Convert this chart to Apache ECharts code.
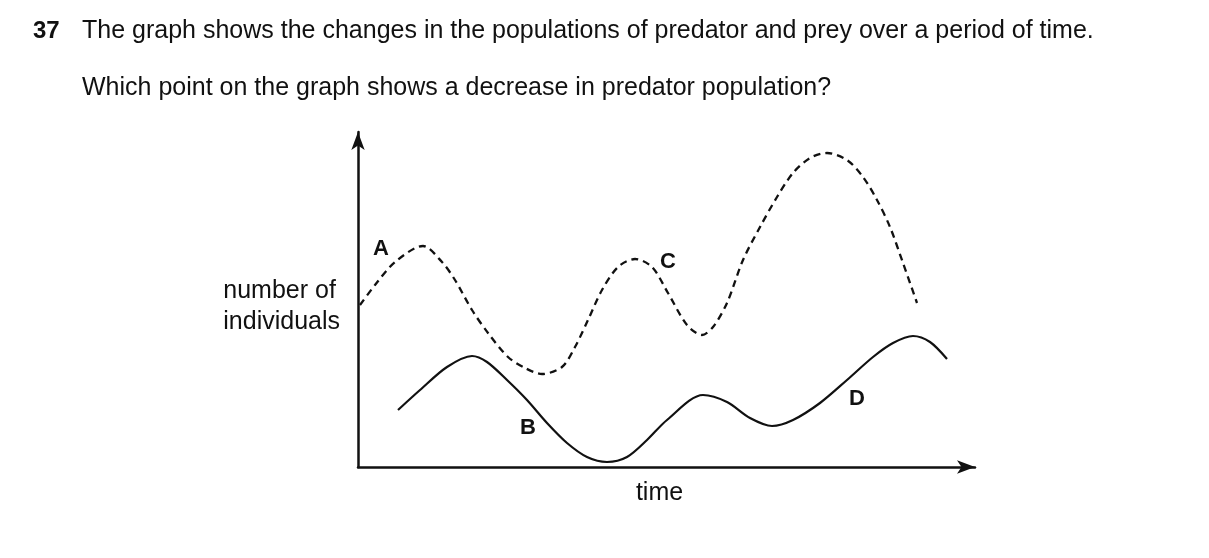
<!DOCTYPE html>
<html>
<head>
<meta charset="utf-8">
<style>
  html, body { margin: 0; padding: 0; background: #fff; }
  #chart { width: 1209px; height: 558px; }
</style>
<script src="https://cdn.jsdelivr.net/npm/echarts@6/dist/echarts.min.js"></script>
</head>
<body>
<div id="chart"></div>
<script>
// prey (dashed) - time / number
var preyX = [360, 375, 395, 423, 442, 455, 472, 488, 508, 525, 542, 562, 575, 588, 602, 618, 635, 652, 668, 687, 702, 713, 727, 743, 760, 777, 793, 810, 827, 847, 863, 877, 890, 903, 917];
var preyY = [162, 182, 205, 221, 205, 187, 157, 134, 110, 99, 93, 100, 120, 147, 177, 200, 208, 200, 174, 142, 132, 140, 164, 207, 240, 270, 294, 309, 314, 307, 290, 267, 240, 204, 164];
// predator (solid)
var predX = [398, 420, 447, 472, 487, 507, 527, 547, 567, 587, 607, 627, 647, 667, 703, 727, 750, 772, 793, 820, 847, 873, 893, 913, 930, 947];
var predY = [57, 77, 100, 111, 105, 87, 67, 44, 24, 10, 5, 10, 27, 47, 72, 65, 49, 41, 47, 64, 87, 110, 124, 131, 125, 108];
// point letters
var letters = ['A', 'B', 'C', 'D'];
var letterX = [381, 528, 668, 857];
var letterY = [218, 39, 205, 68];

var font = '"Liberation Sans", Arial, sans-serif';

function pairs(xs, ys) {
  var out = [];
  for (var i = 0; i < xs.length; i++) out.push([xs[i], ys[i]]);
  return out;
}
var letterData = [];
for (var i = 0; i < letters.length; i++) {
  letterData.push({ value: [letterX[i], letterY[i]], name: letters[i] });
}

var chart = echarts.init(document.getElementById('chart'));
chart.setOption({
  animation: false,
  backgroundColor: '#fff',
  graphic: [
    { type: 'text', left: 33, top: 19, style: { text: '37', font: 'bold 24px ' + font, fill: '#111' } },
    { type: 'text', left: 82, top: 19, style: { text: 'The graph shows the changes in the populations of predator and prey over a period of time.', font: '25px ' + font, fill: '#111' } },
    { type: 'text', left: 82, top: 76, style: { text: 'Which point on the graph shows a decrease in predator population?', font: '25px ' + font, fill: '#111' } },
    { type: 'text', right: 869, top: 276, style: { text: 'number of\nindividuals', font: '25px ' + font, fill: '#111', align: 'right', lineHeight: 31 } }
  ],
  grid: { left: 358, right: 234, top: 132, bottom: 91 },
  xAxis: {
    type: 'value', min: 358, max: 975,
    name: 'time', nameLocation: 'middle', nameGap: 14,
    nameTextStyle: { fontFamily: font, fontSize: 25, color: '#111', padding: [0, 14, 0, 0] },
    axisLine: { lineStyle: { color: '#111', width: 2.5 }, symbol: ['none', 'arrow'], symbolSize: [10, 18] },
    axisTick: { show: false }, axisLabel: { show: false }, splitLine: { show: false }
  },
  yAxis: {
    type: 'value', min: 0, max: 335,
    axisLine: { show: true, lineStyle: { color: '#111', width: 2.5 }, symbol: ['none', 'arrow'], symbolSize: [10, 18] },
    axisTick: { show: false }, axisLabel: { show: false }, splitLine: { show: false }
  },
  series: [
    {
      name: 'prey', type: 'line', smooth: 0.3, showSymbol: false,
      data: pairs(preyX, preyY),
      lineStyle: { color: '#111', width: 2.3, type: [7, 5] }
    },
    {
      name: 'predator', type: 'line', smooth: 0.3, showSymbol: false,
      data: pairs(predX, predY),
      lineStyle: { color: '#111', width: 2.2 }
    },
    {
      name: 'points', type: 'scatter', symbolSize: 0,
      itemStyle: { opacity: 1 },
      data: letterData,
      label: {
        show: true, position: 'inside', formatter: '{b}',
        fontFamily: font, fontWeight: 'bold', fontSize: 22, color: '#111'
      }
    }
  ]
});
</script>
</body>
</html>
